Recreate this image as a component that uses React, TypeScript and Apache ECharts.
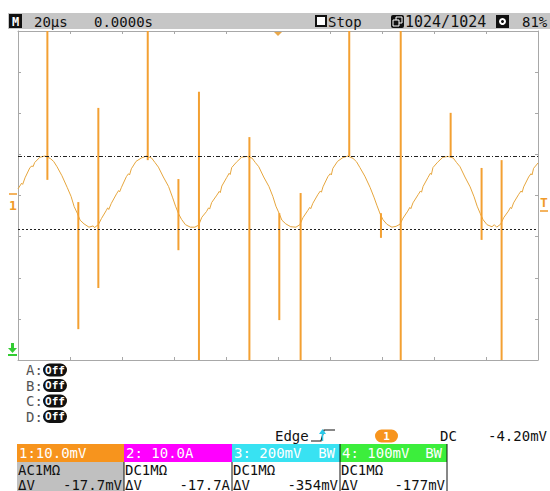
import React, { useEffect, useRef } from 'react';
import * as echarts from 'echarts';

// time in µs, value in mV (10 mV/div, 20 µs/div)
const waveform: [number, number][] = [
  [-100, 1.6], [-98.6, 3.0], [-98.2, 2.7], [-97.3, 4.3], [-95.4, 6.8], [-94.6, 7.2], [-94.2, 7.0], [-93.6, 8.0], [-91.6, 9.3], [-89.6, 9.6],
  [-87.6, 9.0], [-86.3, 8.3], [-85.0, 7.0], [-83.1, 4.8], [-81.1, 2.0], [-79.6, -0.2],
  [-78.4, -2.7], [-77.2, -4.3], [-76.1, -6.0], [-74.6, -6.9], [-72.7, -7.7], [-71.1, -7.4],
  [-70.6, -7.8], [-69.1, -7.1], [-67.9, -5.6], [-66.1, -3.7], [-65.5, -3.0], [-65.1, -3.4], [-64.1, -1.9], [-62.1, 0.4],
  [-61.3, 1.2], [-60.9, 0.9], [-60.2, 2.0], [-58.3, 4.6], [-57.5, 5.3], [-57.1, 5.0], [-56.4, 6.5], [-54.6, 8.3], [-52.6, 9.1], [-50.6, 9.6],
  [-48.6, 9.1], [-47.3, 8.0], [-46.0, 6.9], [-44.1, 4.5], [-42.1, 2.2], [-40.6, -0.4],
  [-39.4, -2.6], [-38.2, -4.5], [-37.1, -5.8], [-35.6, -7.1], [-33.7, -7.7],
  [-32.0, -7.7], [-30.5, -7.2], [-29.3, -5.3], [-27.5, -3.9], [-26.7, -3.0], [-26.3, -3.3], [-25.5, -1.7], [-23.5, 0.1],
  [-22.6, 1.0], [-22.2, 0.7], [-21.6, 2.3], [-19.7, 4.4], [-18.8, 5.4], [-18.4, 5.1], [-17.8, 6.8], [-16.0, 8.1], [-14.0, 9.3], [-12.0, 9.5],
  [-10.0, 9.1], [-8.7, 8.0], [-7.4, 7.0], [-5.5, 4.5], [-3.5, 2.2], [-2.0, -0.2],
  [-0.8, -2.6], [0.4, -4.3], [1.5, -6.0], [3.0, -6.9], [4.9, -7.6],
  [6.9, -7.7], [8.4, -7.1], [9.6, -5.4], [11.4, -3.7], [12.2, -2.9], [12.6, -3.2], [13.4, -1.9], [15.4, 0.3],
  [16.3, 1.1], [16.7, 0.8], [17.3, 2.1], [19.2, 4.6], [20.1, 5.3], [20.5, 5.0], [21.1, 6.6], [22.9, 8.3], [24.9, 9.2], [26.9, 9.6],
  [28.9, 9.0], [30.2, 8.2], [31.5, 6.8], [33.4, 4.7], [35.4, 2.0], [36.9, -0.4],
  [38.1, -2.5], [39.3, -4.5], [40.4, -5.9], [41.9, -7.0], [43.8, -7.7],
  [45.4, -7.5], [46.9, -7.0], [48.1, -5.5], [49.9, -3.8], [50.7, -2.9], [51.1, -3.2], [51.9, -1.8], [53.9, 0.2],
  [54.8, 1.1], [55.2, 0.8], [55.8, 2.2], [57.7, 4.4], [58.6, 5.4], [59.0, 5.1], [59.6, 6.8], [61.4, 8.1], [63.4, 9.3], [65.4, 9.5],
  [67.4, 9.1], [68.7, 8.0], [70.0, 7.0], [71.9, 4.5], [73.9, 2.1], [75.4, -0.3],
  [76.6, -2.6], [77.8, -4.4], [78.9, -5.9], [80.4, -7.1], [82.3, -7.6],
  [83.2, -7.1], [84.1, -7.7], [85.6, -7.0], [86.8, -5.4], [88.6, -3.8], [89.4, -2.9], [89.8, -3.2], [90.6, -1.8], [92.6, 0.3],
  [93.5, 1.1], [93.9, 0.8], [94.5, 2.1], [96.4, 4.5], [97.3, 5.3], [97.7, 5.0], [98.3, 6.6], [100, 7.9],
];

// spike: [time µs, top mV, bottom mV]
const spikes: [number, number, number][] = [
  [-88.7, 40, 3.8],
  [-76.8, -1.6, -32.5],
  [-69.1, 21.3, -22.5],
  [-50.1, 40, 8.6],
  [-38.3, 4.0, -13.3],
  [-30.4, 25.2, -40],
  [-11.0, 14.2, -40],
  [0.5, -4.3, -30.3],
  [8.7, 0.6, -40],
  [27.4, 40, 9.6],
  [39.6, -4.3, -10.3],
  [47.2, 40, -40],
  [66.4, 20.1, 9.6],
  [78.3, 6.7, -10.8],
  [86.0, 8.6, -40],
];

const cursorLevels = [9.6, -8.15];

const headerTexts: [string, number, number][] = [
  ['20µs', 34, 14],
  ['0.0000s', 94, 14],
  ['Stop', 328, 14],
  ['1024/1024', 405, 15],
  ['81%', 522, 14],
];

const measureLabels = ['A', 'B', 'C', 'D'];

const channelHeads = ['1:10.0mV', '2: 10.0A', '3: 200mV', '4: 100mV'];
const channelBW = ['', '', 'BW', 'BW'];
const channelCoupling = ['AC1MΩ', 'DC1MΩ', 'DC1MΩ', 'DC1MΩ'];
const channelDelta = ['-17.7mV', '-17.7A', '-354mV', '-177mV'];
const channelColors = ['#f7941d', '#ff00ff', '#38e2f2', '#3cee3c'];

const triggerInfo = ['Edge', '1', 'DC', '-4.20mV'];

const MONO = '"DejaVu Sans Mono", monospace';

function txt(text: string, x: number, y: number, fill = '#111', size = 14, align = 'left', weight = 'normal') {
  return {
    type: 'text',
    x,
    y,
    silent: true,
    z: 10,
    style: {
      text,
      fill,
      font: `${weight} ${size}px ${MONO}`,
      textAlign: align,
      textVerticalAlign: 'middle',
      align,
      verticalAlign: 'middle',
    },
  };
}

export default function App() {
  const ref = useRef<HTMLDivElement>(null);
  useEffect(() => {
    if (!ref.current) return;
    const chart = echarts.init(ref.current, null, { renderer: 'svg' });

    const g: any[] = [];
    // header bar
    g.push({ type: 'rect', shape: { x: 8, y: 13, width: 542, height: 16 }, style: { fill: '#c6c6c6' }, z: 5 });
    g.push({ type: 'rect', shape: { x: 9, y: 14, width: 13, height: 14 }, style: { fill: '#111' }, z: 6 });
    g.push(txt('M', 15.5, 21.5, '#fff', 12, 'center', 'bold'));
    headerTexts.forEach(([t, x, s]) => g.push(txt(t, x, 21.5, '#111', s)));
    // stop square
    g.push({ type: 'rect', shape: { x: 316, y: 16, width: 10, height: 10 }, style: { fill: '#fff', stroke: '#111', lineWidth: 2 }, z: 6 });
    // stack icon
    g.push({ type: 'rect', shape: { x: 391, y: 15, width: 13, height: 13, r: 2 }, style: { fill: '#111' }, z: 6 });
    g.push({ type: 'rect', shape: { x: 396, y: 17, width: 6, height: 6 }, style: { fill: 'none', stroke: '#fff', lineWidth: 1 }, z: 7 });
    g.push({ type: 'rect', shape: { x: 393, y: 20, width: 6, height: 6 }, style: { fill: '#111', stroke: '#fff', lineWidth: 1 }, z: 8 });
    // gear icon
    g.push({ type: 'rect', shape: { x: 496, y: 15, width: 13, height: 13 }, style: { fill: '#111' }, z: 6 });
    g.push({ type: 'circle', shape: { cx: 502.5, cy: 21.5, r: 3.5 }, style: { fill: '#fff' }, z: 7 });
    g.push({ type: 'circle', shape: { cx: 502.5, cy: 21.5, r: 1.5 }, style: { fill: '#111' }, z: 8 });

    // trigger position marker
    g.push({ type: 'polygon', shape: { points: [[274, 32], [282, 32], [278, 36]] }, style: { fill: '#e9a84a' }, z: 6 });
    // channel 1 ground marker
    g.push({ type: 'line', shape: { x1: 9, y1: 194, x2: 17, y2: 194 }, style: { stroke: '#f09a2a', lineWidth: 1.5 }, z: 6 });
    g.push(txt('1', 13, 205, '#f09a2a', 13, 'center', 'bold'));
    // trigger level marker
    g.push(txt('T', 544, 202, '#f09a2a', 13, 'center', 'bold'));
    g.push({ type: 'line', shape: { x1: 540, y1: 211, x2: 548, y2: 211 }, style: { stroke: '#f09a2a', lineWidth: 1.5 }, z: 6 });
    // green arrow (ch4 off-screen)
    g.push({ type: 'rect', shape: { x: 11, y: 343, width: 3, height: 6 }, style: { fill: '#33cc33' }, z: 6 });
    g.push({ type: 'polygon', shape: { points: [[8, 348], [17, 348], [12.5, 353]] }, style: { fill: '#33cc33' }, z: 6 });
    g.push({ type: 'rect', shape: { x: 8, y: 354, width: 9, height: 2 }, style: { fill: '#33cc33' }, z: 6 });

    // A-D measure labels
    measureLabels.forEach((l, i) => {
      const cy = 370 + i * 15.5;
      g.push(txt(l + ':', 26, cy, '#555', 14));
      g.push({ type: 'rect', shape: { x: 43, y: cy - 6.5, width: 24, height: 13, r: 6.5 }, style: { fill: '#111' }, z: 6 });
      g.push(txt('Off', 55, cy, '#fff', 11, 'center', 'bold'));
    });

    // trigger info row
    g.push(txt(triggerInfo[0], 275, 436, '#111', 14));
    g.push({ type: 'polyline', shape: { points: [[311, 441], [321, 441], [324, 430], [335, 430]] }, style: { stroke: '#111', lineWidth: 1.2, fill: 'none' }, z: 6 });
    g.push({ type: 'line', shape: { x1: 322.5, y1: 441, x2: 322.5, y2: 432 }, style: { stroke: '#2ac8e8', lineWidth: 1.5 }, z: 7 });
    g.push({ type: 'polygon', shape: { points: [[319, 434], [326, 434], [322.5, 429]] }, style: { fill: '#2ac8e8' }, z: 7 });
    g.push({ type: 'rect', shape: { x: 375, y: 429.5, width: 23, height: 13, r: 6.5 }, style: { fill: '#f7941d' }, z: 6 });
    g.push(txt(triggerInfo[1], 386.5, 436, '#fff', 11, 'center', 'bold'));
    g.push(txt(triggerInfo[2], 440, 436, '#111', 14));
    g.push(txt(triggerInfo[3], 488, 436, '#111', 14));

    // channel table
    const colX = [17, 124, 232, 340, 447];
    for (let i = 0; i < 4; i++) {
      const x0 = colX[i];
      const x1 = colX[i + 1];
      g.push({ type: 'rect', shape: { x: x0, y: 444, width: x1 - x0, height: 18 }, style: { fill: channelColors[i] }, z: 5 });
      if (i === 0) {
        g.push({ type: 'rect', shape: { x: x0, y: 462, width: x1 - x0, height: 30 }, style: { fill: '#c0c0c0' }, z: 5 });
      }
      g.push(txt(channelHeads[i], x0 + 2, 453, '#fff', 14));
      if (channelBW[i]) g.push(txt(channelBW[i], x1 - 5, 453, '#fff', 14, 'right'));
      g.push(txt(channelCoupling[i], x0 + 1, 469.5, '#111', 14));
      g.push(txt('ΔV', x0 + 1, 484.5, '#111', 14));
      g.push(txt(channelDelta[i], x1 - 2, 484.5, '#111', 14, 'right'));
    }
    [124, 232].forEach((x) =>
      g.push({ type: 'line', shape: { x1: x, y1: 462, x2: x, y2: 491 }, style: { stroke: '#111', lineWidth: 1 }, z: 7 })
    );
    [340, 447].forEach((x) =>
      g.push({ type: 'line', shape: { x1: x, y1: 444, x2: x, y2: 491 }, style: { stroke: '#111', lineWidth: 1 }, z: 7 })
    );

    const axisCommon = {
      type: 'value',
      axisLine: { show: true, onZero: false, lineStyle: { color: '#a8a8a8', width: 1 } },
      axisTick: { show: true, inside: true, length: 3, lineStyle: { color: '#a8a8a8' } },
      axisLabel: { show: false },
      splitLine: { show: false },
    };

    chart.setOption({
      animation: false,
      backgroundColor: '#fff',
      grid: { left: 18, top: 31, width: 520, height: 329, containLabel: false },
      xAxis: [
        { ...axisCommon, min: -100, max: 100, interval: 20, position: 'bottom' },
        { ...axisCommon, min: -100, max: 100, interval: 20, position: 'top' },
      ],
      yAxis: [
        { ...axisCommon, min: -40, max: 40, interval: 10, position: 'left' },
        { ...axisCommon, min: -40, max: 40, interval: 10, position: 'right' },
      ],
      series: [
        {
          type: 'line',
          data: waveform,
          showSymbol: false,
          symbol: 'none',
          lineStyle: { color: '#e6a63e', width: 1 },
          z: 3,
          markLine: {
            silent: true,
            symbol: 'none',
            label: { show: false },
            data: [
              { yAxis: cursorLevels[0], lineStyle: { color: '#222', width: 1, type: [4, 2, 1, 2] } },
              { yAxis: cursorLevels[1], lineStyle: { color: '#222', width: 1, type: [2, 2] } },
            ],
          },
        },
        {
          type: 'custom',
          clip: true,
          z: 4,
          data: spikes,
          renderItem: (params: any, api: any) => {
            const t = api.value(0);
            const p1 = api.coord([t, api.value(1)]);
            const p2 = api.coord([t, api.value(2)]);
            return {
              type: 'line',
              shape: { x1: p1[0], y1: p1[1], x2: p2[0], y2: p2[1] },
              style: { stroke: '#f3a032', lineWidth: 2 },
            };
          },
        },
      ],
      graphic: { elements: g },
    });
    return () => chart.dispose();
  }, []);
  return <div ref={ref} style={{ position: 'fixed', left: 0, top: 0, width: 550, height: 491 }} />;
}
